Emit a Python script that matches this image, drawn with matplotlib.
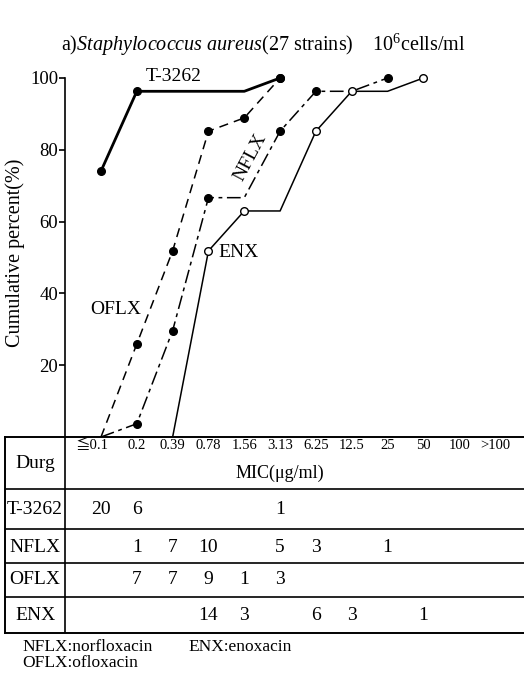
import numpy as np
import matplotlib
matplotlib.use("Agg")
import matplotlib.pyplot as plt

plt.rcParams['font.family'] = ['Liberation Serif', 'Noto Sans CJK JP', 'DejaVu Sans']
plt.rcParams['mathtext.fontset'] = 'custom'
plt.rcParams['mathtext.rm'] = 'Liberation Serif'
plt.rcParams['mathtext.it'] = 'Liberation Serif:italic'

# ---- data ----
mic_labels = ['≦0.1', '0.2', '0.39', '0.78', '1.56', '3.13', '6.25', '12.5', '25', '50', '100', '>100']
drugs = ['T-3262', 'NFLX', 'OFLX', 'ENX']
t3262 = [20, 6, 0, 0, 0, 1, 0, 0, 0, 0, 0, 0]
nflx = [0, 1, 7, 10, 0, 5, 3, 0, 1, 0, 0, 0]
oflx = [0, 7, 7, 9, 1, 3, 0, 0, 0, 0, 0, 0]
enx = [0, 0, 0, 14, 3, 0, 6, 3, 0, 1, 0, 0]
yticks = [20, 40, 60, 80, 100]

W, H = 524, 675
fig = plt.figure(figsize=(W / 100, H / 100), dpi=100)

def fx(px):
    return px / W

def fy(py):
    return 1 - py / H

# main axes: pixel x 5..524, y 78 (100%) .. 437 (0%)
ax = fig.add_axes([fx(5), fy(437), fx(524) - fx(5), fy(78) - fy(437)])
x0, dx = 101, 35.82
xl = ((5 - x0) / dx, (524 - x0) / dx)
ax.set_xlim(*xl)
ax.set_ylim(0, 100)
for s in ['top', 'right', 'bottom']:
    ax.spines[s].set_visible(False)
ax.spines['left'].set_position(('data', -1))
ax.spines['left'].set_bounds(0, 100)
ax.spines['left'].set_linewidth(1.2)
ax.set_yticks(yticks)
ax.set_yticklabels([str(v) for v in yticks], fontsize=13.5)
ax.tick_params(axis='y', direction='out', length=4, width=1.2, pad=1)
ax.set_xticks(np.arange(len(mic_labels)))
ax.set_xticklabels([])
ax.tick_params(axis='x', direction='in', length=7, width=1.0, bottom=True)
ax.set_ylabel('Cumulative percent(%)', fontsize=14.5)
ax.yaxis.set_label_coords((25 - 5) / (524 - 5), (437 - 253) / (437 - 78))

styles = {
    'T-3262': dict(lw=2.0, ls='-', mfc='black'),
    'NFLX': dict(lw=1.1, ls=(0, (9, 3, 2.5, 3)), mfc='black'),
    'OFLX': dict(lw=1.1, ls=(0, (6, 4)), mfc='black'),
    'ENX': dict(lw=1.1, ls='-', mfc='white'),
}
series = {'T-3262': t3262, 'NFLX': nflx, 'OFLX': oflx, 'ENX': enx}
for name in ['ENX', 'OFLX', 'NFLX', 'T-3262']:
    c = np.array(series[name], dtype=float)
    cum = np.cumsum(c) / c.sum() * 100
    nz = np.nonzero(c)[0]
    first, last = nz[0], nz[-1]
    start = first - 1 if first > 0 else 0
    xs = np.arange(start, last + 1)
    ys = cum[start:last + 1]
    st = styles[name]
    ax.plot(xs, ys, color='black', lw=st['lw'], ls=st['ls'], clip_on=False, zorder=2)
    ax.plot(nz, cum[nz], ls='none', marker='o', ms=5.5, mfc=st['mfc'], mec='black',
            mew=1.0, clip_on=False, zorder=3)

ax.text(2.04, 100.5, 'T-3262', fontsize=14, ha='center', va='center')
ax.text(4.16, 78, 'NFLX', fontsize=14, ha='center', va='center', rotation=62)
ax.text(3.27, 51.5, 'ENX', fontsize=14, ha='left', va='center')
ax.text(0.42, 35.4, 'OFLX', fontsize=14, ha='center', va='center')

fig.text(fx(263), fy(45),
         r"a)$\mathit{Staphylococcus\ aureus}$(27 strains)    10$^6$cells/ml",
         fontsize=14.5, ha='center', va='center')

# table axes: pixel y 437..633
tb = fig.add_axes([fx(5), fy(633), fx(524) - fx(5), fy(437) - fy(633)], sharex=ax)
tb.set_ylim(196, 0)
tb.set_xlim(*xl)
tb.set_xticks([])
tb.set_yticks([])
tb.spines['right'].set_visible(False)
for s in ['left', 'top', 'bottom']:
    tb.spines[s].set_linewidth(1.4)
for yy in [52, 92, 126, 160]:
    tb.axhline(yy, color='black', lw=1.2)
tb.plot([-1, -1], [0, 196], color='black', lw=1.2)

for i, lab in enumerate(mic_labels):
    shift = -0.25 if i == 0 else 0.0
    tb.text(i + shift, 8, lab, fontsize=10.5, ha='center', va='center')
tb.text(5.0, 36, 'MIC(μg/ml)', fontsize=13, ha='center', va='center')
tb.text(-1.84, 26, 'Durg', fontsize=14, ha='center', va='center')

row_y = [72, 110, 143, 178]
for name, yy in zip(drugs, row_y):
    tb.text(-1.84, yy, name, fontsize=14, ha='center', va='center')
    for i, v in enumerate(series[name]):
        if v:
            tb.text(i, yy, str(v), fontsize=14, ha='center', va='center')

fig.text(fx(22), fy(647), 'NFLX:norfloxacin', fontsize=12.5, ha='left', va='center')
fig.text(fx(188), fy(647), 'ENX:enoxacin', fontsize=12.5, ha='left', va='center')
fig.text(fx(22), fy(663), 'OFLX:ofloxacin', fontsize=12.5, ha='left', va='center')

fig.savefig('out.png', dpi=100)
